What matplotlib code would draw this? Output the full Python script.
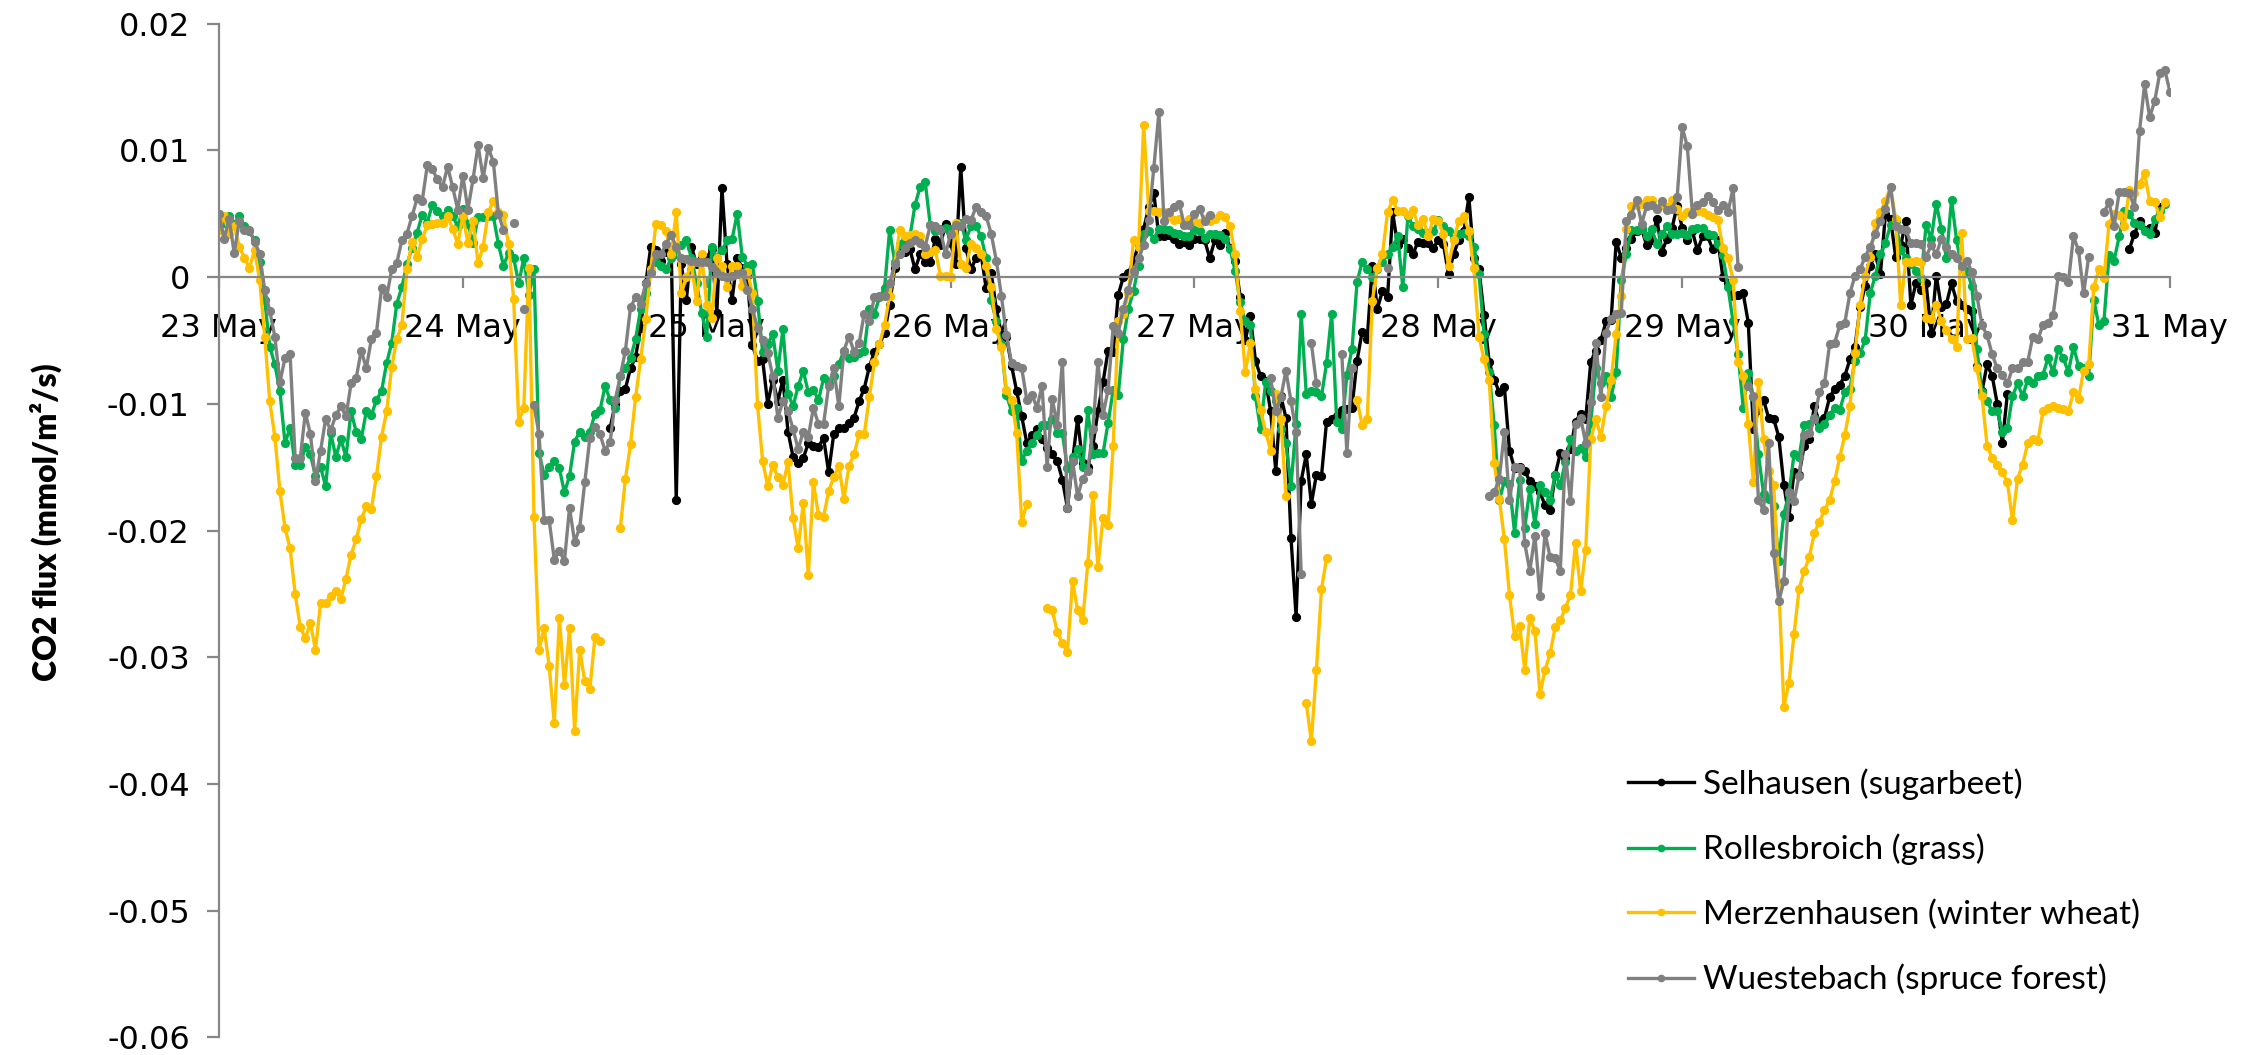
import numpy as np
import pandas as pd
import matplotlib
matplotlib.use("Agg")
import matplotlib.pyplot as plt
import matplotlib.dates as mdates

nan = np.nan

# CO2 flux, half-hourly (units of 0.001 mmol/m2/s), one list per day
sel_d0 = [nan] * 48
sel_d1 = [nan] * 29 + [-11.9, -10.0, -9.0, -8.8, -7.2, -6.3, -4.0, -0.5, 2.4, 2.1, 1.3, 2.0, 2.4, -17.6, 1.0, -1.8, 2.4, 1.0, 1.5]
sel_d2 = [1.5, 2.2, -2.8, 7.0, 1.0, -1.8, 1.5, 0.7, 0.1, -5.4, -6.6, -6.5, -10.0, -8.1, -9.8, -8.1, -12.2, -14.2, -14.7, -14.3,
          -13.1, -13.3, -13.4, -12.7, -15.4, -12.4, -11.9, -11.9, -11.5, -11.1, -9.8, -8.8, -7.1, -5.9, -5.3, -4.4, -2.2, 0.7, 2.0, 2.0,
          2.2, 0.6, 1.8, 1.2, 1.2, 3.0, 2.5, 4.2]
sel_d3 = [2.7, 1.0, 8.7, 2.3, 0.6, 1.5, 1.8, -0.9, 0.3, -2.5, -4.5, -4.7, -7.0, -9.0, -11.0, -13.1, -12.5, -12.0, -12.8, -13.5,
          -14.0, -14.5, -16.0, -18.2, -14.5, -11.2, -14.7, -15.0, -13.3, -10.6, -8.3, -5.8, -5.9, -1.4, 0.0, 0.3, 1.3, 2.5, 3.8, 5.5,
          6.6, 3.2, 3.2, 3.3, 3.0, 2.6, 2.8, 2.5]
sel_d4 = [3.0, 3.0, 2.9, 1.5, 2.9, 2.5, 3.5, 2.3, 1.3, -1.6, -5.0, -3.1, -6.6, -7.8, -8.2, -10.6, -15.3, -9.4, -11.1, -20.6,
          -26.8, -16.1, -14.0, -17.9, -15.6, -15.7, -11.4, -11.2, -11.0, -10.5, -10.4, -10.3, -6.6, -4.3, -4.9, 0.9, -2.5, -1.1, -1.6, 5.1,
          2.5, 3.0, 2.3, 1.8, 2.8, 2.7, 2.7, 2.3]
sel_d5 = [2.9, 2.6, 0.2, 1.8, 2.9, 3.6, 6.3, 1.5, 0.6, -3.0, -6.7, -8.1, -9.1, -8.7, -13.7, -15.1, -15.0, -15.3, -16.1, -16.5,
          -17.0, -18.0, -18.4, -15.6, -13.9, -14.3, -13.6, -11.4, -10.8, -11.2, -6.7, -5.8, -5.0, -3.5, -3.4, 2.8, 1.5, 2.3, 3.0, 3.6,
          3.8, 2.5, 2.9, 4.6, 2.0, 3.0, 3.9, 5.6]
sel_d6 = [3.9, 2.9, 3.6, 2.1, 3.2, 3.2, 2.2, 2.9, 0.0, -0.5, -1.5, -1.4, -1.3, -3.6, -12.0, -10.5, -9.7, -11.1, -11.2, -12.6,
          -16.4, -18.9, -15.4, -15.6, -13.3, -12.8, -10.2, -11.5, -11.1, -9.5, -8.8, -8.5, -7.8, -6.5, -5.5, -2.4, -0.7, 0.9, 1.8, 0.2,
          5.0, 4.6, 1.6, 2.5, 4.4, -2.2, -0.5, -1.0]
sel_d7 = [-0.5, -4.4, 0.1, -2.4, -2.1, -0.5, -1.9, -2.2, -2.5, -2.7, -7.0, -9.0, -6.9, -7.8, -10.0, -13.1, -9.2] + [nan] * 23 + \
         [2.2, 3.4, 4.4, 3.7, 3.9, 3.5, 5.5, nan]

rol_d0 = [5.0, 4.3, 4.8, 4.2, 4.8, 4.0, 3.6, 2.9, 1.2, -1.8, -5.5, -6.9, -9.0, -13.1, -11.9, -14.8, -14.8, -13.4, -14.0, -15.7,
          -15.0, -16.5, -12.3, -14.2, -12.8, -14.2, -10.6, -12.2, -12.8, -10.6, -10.9, -9.7, -9.0, -6.8, -5.2, -2.1, -0.8, 1.0, 2.3, 3.5,
          4.9, 4.3, 5.7, 5.2, 4.8, 5.3, 4.8, 4.0]
rol_d1 = [5.4, 4.2, 2.7, 4.7, 4.7, 4.8, 4.8, 2.6, 0.9, 1.9, 1.5, -0.5, 1.5, -1.4, 0.6, -13.9, -15.6, -15.0, -14.5, -15.1,
          -17.0, -15.7, -13.0, -12.2, -12.6, -12.2, -10.8, -10.5, -8.6, -9.7, -10.3, -7.8, -7.2, -6.4, -4.9, -2.5, -1.3, 0.4, 1.2, 0.9,
          0.6, 1.5, 1.8, 2.5, 2.9, 1.5, -0.5, -2.8]
rol_d2 = [-4.7, 2.4, 1.5, 2.1, 2.9, 3.0, 5.0, 1.6, 0.9, 1.0, -1.9, -5.9, -5.3, -4.5, -7.4, -4.1, -9.2, -10.2, -8.6, -7.4,
          -9.1, -8.9, -9.7, -8.0, -8.4, -7.8, -6.9, -5.8, -6.4, -6.3, -6.0, -5.8, -2.5, -2.9, -1.6, -0.9, 3.7, 1.2, 2.6, 2.9,
          3.2, 5.7, 7.1, 7.5, 4.1, 3.6, 3.8, 3.9]
rol_d3 = [3.8, 4.1, 4.3, 2.9, 4.0, 4.0, 3.2, 1.5, -1.8, -3.5, -5.3, -9.3, -10.6, -10.3, -14.5, -13.7, -13.1, -12.5, -11.7, -11.7,
          -11.2, -12.3, -12.3, -15.1, -14.2, -13.6, -15.0, -10.5, -14.0, -13.9, -13.9, -11.5, -8.9, -9.3, -4.9, -2.5, -1.1, 0.9, 3.4, 3.6,
          3.0, 3.8, 3.8, 3.7, 3.5, 3.4, 3.2, 3.2]
rol_d4 = [3.7, 3.6, 3.1, 3.4, 3.4, 3.3, 3.0, 2.2, 0.5, -2.0, -3.5, -3.8, -9.4, -12.0, -8.3, -9.0, -9.8, -12.0, -13.1, -16.5,
          -11.6, -2.9, -9.2, -9.0, -9.1, -9.4, -6.8, -2.9, -11.4, -12.0, -7.7, -5.7, -0.4, 1.2, 0.6, 0.0, 0.6, 1.2, 1.8, 2.4,
          3.2, -0.8, 4.8, 4.0, 3.8, 3.5, 3.5, 3.6]
rol_d5 = [4.5, 4.0, 3.6, 3.0, 3.4, 3.5, 3.2, 2.4, 0.2, -4.5, -7.5, -11.7, -17.6, -16.1, -16.3, -20.2, -16.0, -19.8, -16.7, -19.5,
          -16.4, -17.0, -17.6, -15.6, -16.4, -14.6, -12.8, -13.7, -13.5, -14.2, -11.5, -7.2, -8.4, -7.8, -9.5, -7.5, -0.2, 1.8, 3.7, 3.7,
          3.8, 3.2, 3.8, 2.6, 3.4, 4.0, 3.4, 3.4]
rol_d6 = [3.5, 3.3, 3.8, 3.9, 3.9, 3.4, 3.3, 2.6, 1.7, -0.8, -3.5, -6.1, -10.3, -7.6, -9.5, -14.0, -17.1, -17.5, -18.1, -22.4,
          -18.7, -17.1, -14.0, -14.2, -11.7, -11.6, -11.1, -11.9, -11.6, -10.9, -10.3, -10.5, -9.1, -8.8, -6.6, -6.0, -5.0, -1.3, 0.1, 1.8,
          2.7, 4.1, 4.4, 2.1, 1.5, 1.0, 0.5, -0.1]
rol_d7 = [4.1, 3.0, 5.8, 3.8, 1.5, 6.1, 2.9, 0.7, 0.5, -0.7, -5.7, -9.1, -9.8, -10.6, -10.6, -12.2, -11.9, -9.4, -8.4, -9.4,
          -8.1, -8.4, -7.8, -7.7, -6.4, -7.5, -5.7, -6.4, -7.5, -5.5, -7.0, -7.2, -7.8, -1.8, -3.8, -3.5, 1.7, 1.3, 3.2, 5.2,
          5.0, 4.3, 4.1, 3.6, 3.4, 4.6, 5.2, 5.8]

mer_d0 = [3.7, 4.8, 3.4, 4.0, 2.4, 1.5, 0.7, 2.1, -0.2, -4.7, -9.8, -12.6, -16.9, -19.8, -21.4, -25.0, -27.6, -28.5, -27.3, -29.4,
          -25.7, -25.7, -25.2, -24.8, -25.4, -23.8, -21.9, -20.7, -19.1, -18.1, -18.3, -15.7, -12.6, -10.6, -7.1, -4.9, -3.8, 0.6, 2.8, 1.6,
          3.0, 4.1, 4.2, 4.3, 4.3, 4.8, 3.8, 2.6]
mer_d1 = [4.8, 2.7, 4.4, 1.1, 2.4, 5.1, 6.0, 5.1, 4.9, 2.6, -1.7, -11.4, -10.3, 0.7, -18.9, -29.4, -27.7, -30.7, -35.2, -26.9,
          -32.2, -27.7, -35.8, -29.4, -31.9, -32.5, -28.4, -28.7, nan, nan, nan, -19.8, -15.9, -13.2, -9.5, -6.5, -3.3, 0.6, 4.2, 4.1,
          3.6, 1.8, 5.1, -1.3, 0.0, 1.0, -1.9, 1.8]
mer_d2 = [-2.2, -3.2, 1.5, 0.9, -0.8, 0.9, 0.9, -0.7, 0.4, -1.3, -10.1, -14.5, -16.5, -14.8, -15.8, -16.4, -14.6, -19.0, -21.4, -17.8,
          -23.5, -16.2, -18.8, -18.9, -16.9, -15.8, -14.9, -17.5, -14.9, -14.0, -12.4, -12.4, -9.5, -6.7, -5.3, -3.8, -1.5, 1.0, 3.7, 3.2,
          3.3, 3.4, 3.2, 1.8, 2.0, 2.1, 0.1, 0.1]
mer_d3 = [0.0, 4.3, 1.0, 0.7, 2.6, 2.3, 1.8, 0.9, -0.8, -4.1, -5.5, -8.9, -9.7, -12.3, -19.3, -17.9, nan, nan, nan, -26.1,
          -26.3, -28.0, -28.9, -29.6, -24.0, -26.3, -27.1, -22.6, -17.2, -22.9, -19.0, -19.6, -13.3, -3.5, -2.9, -1.3, 2.9, 2.4, 12.0, 5.2,
          5.2, 5.1, 5.1, 4.8, 4.5, 4.6, 4.1, 4.6]
mer_d4 = [4.4, 4.3, 4.6, 4.4, 4.6, 4.9, 4.7, 4.0, 1.8, -2.7, -7.5, -5.2, -8.8, -10.5, -12.2, -13.7, -9.2, -11.2, -17.3, nan,
          nan, nan, -33.6, -36.6, -31.0, -24.6, -22.2, nan, nan, nan, nan, nan, -9.7, -11.7, -11.2, -1.9, 0.7, 1.8, 5.1, 6.1,
          5.2, 5.2, 4.9, 5.3, 4.1, 4.6, 3.2, 4.6]
mer_d5 = [4.4, 3.4, 0.9, 2.9, 4.4, 4.8, 3.6, 0.7, -4.7, -6.5, -8.1, -14.7, -17.5, -20.7, -25.1, -28.3, -27.5, -31.0, -26.9, -27.9,
          -32.9, -31.0, -29.7, -27.6, -27.1, -26.1, -25.1, -21.0, -24.8, -21.5, -12.8, -11.2, -12.6, -10.2, -8.1, -4.5, -1.5, 3.8, 5.6, 5.7,
          5.8, 6.1, 6.1, 5.4, 5.7, 5.5, 6.1, 5.4]
mer_d6 = [4.8, 5.1, 5.0, 5.2, 5.1, 4.9, 4.7, 4.5, 2.3, 1.5, -0.2, -6.7, -7.8, -11.6, -16.2, -8.3, -12.8, -15.3, -16.4, -24.3,
          -33.9, -32.0, -28.2, -24.6, -23.2, -22.1, -20.2, -19.3, -18.4, -17.6, -16.1, -14.2, -12.5, -10.2, -6.0, -2.2, 0.1, 1.6, 4.3, 5.1,
          6.0, 7.1, 4.6, -2.2, 1.2, 1.2, 1.3, 1.2]
mer_d7 = [-3.2, -3.3, -2.2, -3.5, -4.2, -4.9, -5.5, 3.5, -4.9, -4.8, -7.2, -9.4, -13.3, -14.3, -14.8, -15.4, -16.2, -19.2, -15.9, -14.8,
          -13.1, -12.8, -12.9, -10.6, -10.3, -10.2, -10.3, -10.4, -10.6, -9.1, -9.6, -7.4, -6.9, -0.8, 0.6, -0.1, 4.2, 5.0, 4.9, 4.0,
          6.9, 6.6, 7.3, 8.2, 6.0, 5.9, 4.7, 5.9]

wue_d0 = [5.0, 3.0, 4.6, 1.9, 4.4, 3.7, 3.7, 2.8, 1.8, -1.0, -2.7, -4.7, -8.3, -6.4, -6.1, -14.3, -14.3, -10.7, -12.4, -16.1,
          -13.7, -11.2, -12.1, -10.9, -10.2, -11.0, -8.4, -8.0, -5.8, -7.2, -4.9, -4.4, -0.9, -1.6, 0.6, 1.1, 2.9, 3.4, 4.8, 6.2,
          6.0, 8.8, 8.5, 7.7, 7.1, 8.7, 7.1, 5.3]
wue_d1 = [8.0, 5.3, 7.7, 10.4, 7.8, 10.2, 9.1, 5.0, 3.7, nan, 4.3, nan, -2.5, nan, -10.1, -12.4, -19.2, -19.2, -22.3, -21.6,
          -22.4, -18.2, -20.9, -19.8, -16.2, -12.7, -11.8, -12.4, -13.7, -13.0, -9.7, -7.8, -5.8, -2.4, -1.6, -2.1, -0.5, 0.3, 1.8, 1.8,
          2.6, 3.3, 2.4, 1.5, 1.4, 1.3, 1.2, 1.2]
wue_d2 = [1.2, 0.8, 0.3, 0.1, 0.0, 0.1, 0.2, 0.3, -1.0, -2.5, -4.0, -5.0, -6.0, -7.8, -11.1, -9.8, -10.6, -12.0, -13.6, -12.2,
          -12.6, -10.3, -11.6, -11.6, -8.6, -7.2, -10.2, -5.8, -4.7, -5.9, -5.2, -2.9, -3.5, -1.6, -1.5, -1.5, -0.5, 1.0, 1.8, 2.3,
          2.7, 2.9, 2.7, 2.4, 4.1, 4.0, 3.7, 1.8]
wue_d3 = [3.4, 4.1, 4.0, 4.6, 4.5, 5.5, 5.1, 4.8, 3.4, 1.3, -1.5, -4.6, -6.8, -7.0, -7.2, -9.7, -9.3, -10.3, -8.6, -15.0,
          -9.6, -11.7, -6.7, -18.2, -14.5, -17.3, -15.9, -15.3, -12.0, -6.7, -10.9, -8.9, -3.9, -4.4, -2.5, -1.0, 0.5, 1.5, 2.5, 4.5,
          8.6, 13.0, 4.4, 5.1, 5.5, 5.8, 4.1, 4.1]
wue_d4 = [5.0, 5.4, 4.4, 4.9] + [nan] * 11 + [-8.0, -10.6, -9.5, -7.4, -9.8, -12.2, -23.4, nan, -5.2, -8.4, nan, nan, nan, nan,
          -6.1, -13.9, -7.2] + [nan] * 6 + [0.7] + [nan] * 9
wue_d5 = [nan] * 10 + [-17.3, -17.0, -15.9, -12.2, -17.6, -15.0, -15.1, -21.0, -23.2, -20.4,
          -25.2, -20.2, -22.1, -22.2, -23.2, -14.0, -17.7, -11.6, -11.1, -13.1, -9.9, -5.2, -9.5, -4.4, -3.3, -2.9, -2.8, 4.4, 4.9, 6.1,
          4.2, 5.6, 5.7, 5.4, 6.0, 5.3, 5.4, 6.3]
wue_d6 = [11.8, 10.3, 5.0, 5.7, 5.9, 6.4, 5.9, 5.3, 5.7, 5.1, 7.0, 0.8, nan, -8.6, -9.4, -17.6, -18.4, -13.1, -21.8, -25.6,
          -24.0, -17.0, -17.7, -15.7, -12.5, -12.3, -11.2, -9.1, -8.4, -5.3, -5.2, -3.8, -3.6, -1.3, 0.1, 0.6, 1.6, 2.4, 3.4, 4.4,
          5.4, 7.1, 4.0, 3.8, 3.7, 2.7, 2.7, 2.6]
wue_d7 = [1.6, 2.5, 1.8, 3.0, 2.4, 1.8, 1.5, 0.9, 1.3, 0.4, -1.5, -3.8, -4.6, -6.1, -7.2, -7.7, -8.4, -7.2, -7.2, -6.7,
          -6.7, -4.7, -4.9, -3.8, -3.6, -3.0, 0.1, 0.0, -0.4, 3.2, 2.1, -1.3, 1.6, nan, nan, 5.1, 5.9, 4.0, 6.7, 6.7,
          6.6, 5.5, 11.5, 15.2, 12.6, 13.9, 16.1, 16.3]

# last reading at 31 May 00:00
last_sel, last_rol, last_mer, last_wue = nan, nan, nan, 14.6

labels = ["Selhausen (sugarbeet)", "Rollesbroich (grass)", "Merzenhausen (winter wheat)", "Wuestebach (spruce forest)"]
colors = ["#000000", "#00B050", "#FFC000", "#808080"]
day_labels = ["23 May", "24 May", "25 May", "26 May", "27 May", "28 May", "29 May", "30 May", "31 May"]
ytick_vals = [0.02, 0.01, 0, -0.01, -0.02, -0.03, -0.04, -0.05, -0.06]
ytick_txt = ["0.02", "0.01", "0", "-0.01", "-0.02", "-0.03", "-0.04", "-0.05", "-0.06"]

sel = np.array(sel_d0 + sel_d1 + sel_d2 + sel_d3 + sel_d4 + sel_d5 + sel_d6 + sel_d7 + [last_sel]) * 1e-3
rol = np.array(rol_d0 + rol_d1 + rol_d2 + rol_d3 + rol_d4 + rol_d5 + rol_d6 + rol_d7 + [last_rol]) * 1e-3
mer = np.array(mer_d0 + mer_d1 + mer_d2 + mer_d3 + mer_d4 + mer_d5 + mer_d6 + mer_d7 + [last_mer]) * 1e-3
wue = np.array(wue_d0 + wue_d1 + wue_d2 + wue_d3 + wue_d4 + wue_d5 + wue_d6 + wue_d7 + [last_wue]) * 1e-3

t = pd.date_range("2015-05-23 00:00", periods=len(sel), freq="30min")
days = pd.date_range("2015-05-23", periods=len(day_labels), freq="D")

fig = plt.figure(figsize=(22.48, 10.55), dpi=100)
ax = fig.add_axes([0.0974, 0.0166, 0.8679, 0.9611])

for y, c, lab in zip([sel, rol, mer, wue], colors, labels):
    ax.plot(t, y, color=c, lw=2.4, marker="o", ms=5.6, mec=c, mfc=c, label=lab)

axis_grey = "#878787"
ax.set_xlim(days[0], days[-1])
ax.set_ylim(-0.06, 0.02)
for s in ["top", "right"]:
    ax.spines[s].set_visible(False)
ax.spines["left"].set_color(axis_grey)
ax.spines["left"].set_linewidth(1.6)
ax.spines["bottom"].set_position(("data", 0))
ax.spines["bottom"].set_color(axis_grey)
ax.spines["bottom"].set_linewidth(1.6)

ax.set_yticks(ytick_vals)
ax.set_yticklabels(ytick_txt)
ax.set_xticks(days)
ax.set_xticklabels(day_labels)
ax.tick_params(axis="y", direction="out", length=9, width=1.6, color=axis_grey, pad=12, labelsize=23)
ax.tick_params(axis="x", direction="out", length=8, width=1.6, color=axis_grey, pad=18, labelsize=23)

fig.text(0.0205, 0.505, "CO2 flux (mmol/m²/s)", rotation=90, ha="center", va="center",
         fontsize=23, fontweight="heavy", family="Lato")

leg = ax.legend(loc="upper left", bbox_to_anchor=(0.724, 0.272), bbox_transform=fig.transFigure,
                frameon=False, numpoints=1, handlelength=2.0, handletextpad=0.25, labelspacing=1.02,
                borderpad=0, borderaxespad=0, prop={"family": "Lato", "size": 24})
for h in leg.legend_handles:
    h.set_markersize(4.5)
    h.set_linewidth(2.4)

fig.savefig("out.png", dpi=100)
